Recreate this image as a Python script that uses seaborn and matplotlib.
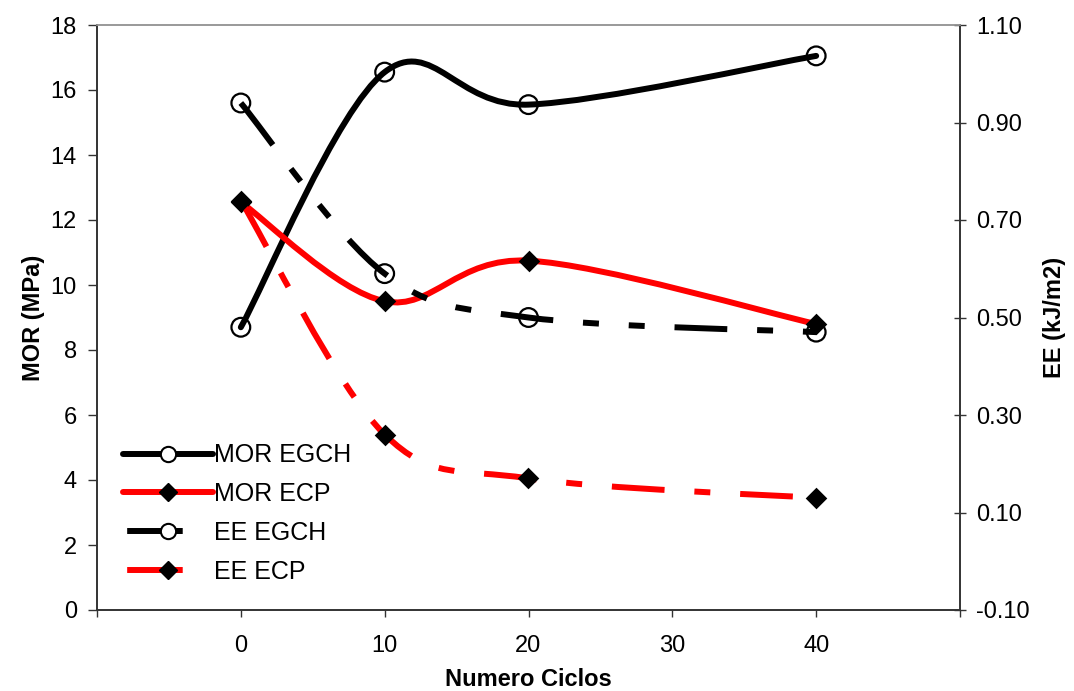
import numpy as np
import seaborn as sns
import matplotlib.pyplot as plt
from matplotlib.path import Path
from matplotlib.patches import PathPatch
from matplotlib.lines import Line2D
from matplotlib.ticker import FormatStrFormatter

ciclos = [0, 10, 20, 40]
mor_egch = [8.7, 16.55, 15.55, 17.05]
mor_ecp = [12.55, 9.5, 10.75, 8.8]
ee_egch = [0.94, 0.59, 0.50, 0.47]
ee_ecp = [0.74, 0.26, 0.17, 0.13]

sns.set_style("white")
plt.rcParams["font.family"] = ["Liberation Sans", "DejaVu Sans"]
plt.rcParams["axes.unicode_minus"] = False
plt.rcParams["lines.scale_dashes"] = False
plt.rcParams["text.color"] = "black"
plt.rcParams["axes.labelcolor"] = "black"


def smooth_path(xs, ys):
    # excel-like smoothed line (catmull-rom as bezier)
    pts = np.column_stack([xs, ys]).astype(float)
    n = len(pts)
    verts = [pts[0]]
    codes = [Path.MOVETO]
    for i in range(n - 1):
        p0 = pts[max(i - 1, 0)]
        p1 = pts[i]
        p2 = pts[i + 1]
        p3 = pts[min(i + 2, n - 1)]
        verts += [p1 + (p2 - p0) / 6, p2 - (p3 - p1) / 6, p2]
        codes += [Path.CURVE4] * 3
    return Path(verts, codes)


lw = 4.3
dash_ecp = (0, (38, 21.5, 11.5, 21.5))
dash_egch = (0, (38, 21.5, 11.5, 21.5, 11.5, 21.5))
fs = 17

fig = plt.figure(figsize=(10.74, 6.91), dpi=100)
ax = fig.add_axes([97 / 1074, 1 - 610 / 691, (960 - 97) / 1074, (610 - 25) / 691])
ax2 = ax.twinx()

ax.add_patch(PathPatch(smooth_path(ciclos, mor_egch), fill=False, color="black",
                       lw=lw, capstyle="round", joinstyle="round", zorder=2))
ax.add_patch(PathPatch(smooth_path(ciclos, mor_ecp), fill=False, color="red",
                       lw=lw, capstyle="round", joinstyle="round", zorder=2))
sns.scatterplot(x=ciclos, y=mor_egch, ax=ax, marker="o", s=13.5 ** 2,
                facecolor="none", edgecolor="black", linewidth=1.6, zorder=3)
sns.scatterplot(x=ciclos, y=mor_ecp, ax=ax, marker="D", s=11 ** 2,
                color="black", edgecolor="black", linewidth=0, zorder=3)

ax2.add_patch(PathPatch(smooth_path(ciclos, ee_egch), fill=False, color="black",
                        lw=lw, linestyle=dash_egch, capstyle="butt", zorder=2))
ax2.add_patch(PathPatch(smooth_path(ciclos, ee_ecp), fill=False, color="red",
                        lw=lw, linestyle=dash_ecp, capstyle="butt", zorder=2))
sns.scatterplot(x=ciclos, y=ee_egch, ax=ax2, marker="o", s=13.5 ** 2,
                facecolor="none", edgecolor="black", linewidth=1.6, zorder=3)
sns.scatterplot(x=ciclos, y=ee_ecp, ax=ax2, marker="D", s=11 ** 2,
                color="black", edgecolor="black", linewidth=0, zorder=3)

ax.set_xlim(-10, 50)
ax.set_ylim(0, 18)
ax2.set_ylim(-0.10, 1.10)
ax.set_xticks(range(-10, 51, 10))
ax.set_xticklabels(["", "0", "10", "20", "30", "40", ""])
ax.set_yticks(range(0, 19, 2))
ax2.set_yticks(np.arange(-0.10, 1.11, 0.20))
ax2.yaxis.set_major_formatter(FormatStrFormatter("%.2f"))

for a in (ax, ax2):
    for s in a.spines.values():
        s.set_color("#333333")
        s.set_linewidth(1.2)
    a.spines["top"].set_color("#999999")
ax.tick_params(axis="y", direction="out", length=6.5, width=1, labelsize=fs,
               colors="#333333", labelcolor="black", pad=8, left=True)
ax.tick_params(axis="x", direction="out", length=5, width=1, labelsize=fs,
               colors="#333333", labelcolor="black", pad=13, bottom=True)
ax2.tick_params(axis="y", direction="inout", length=9, width=1, labelsize=fs,
                colors="#333333", labelcolor="black", pad=7, right=True)

ax.set_xlabel("Numero Ciclos", fontsize=fs, fontweight="bold", labelpad=8)
ax.set_ylabel("MOR (MPa)", fontsize=fs, fontweight="bold", labelpad=4)
ax2.set_ylabel("EE (kJ/m2)", fontsize=fs, fontweight="bold", labelpad=10,
               rotation=90)

handles = [
    Line2D([], [], color="black", lw=lw, solid_capstyle="round", marker="o",
           ms=11, mfc="white", mec="black", mew=1.5),
    Line2D([], [], color="red", lw=lw, solid_capstyle="round", marker="D",
           ms=9, mfc="black", mec="black"),
    Line2D([], [], color="black", lw=lw, linestyle=(-3, (40, 200)),
           dash_capstyle="butt", marker="o", ms=11, mfc="white", mec="black",
           mew=1.5),
    Line2D([], [], color="red", lw=lw, linestyle=(-3, (40, 200)),
           dash_capstyle="butt", marker="D", ms=9, mfc="black", mec="black"),
]
labels = ["MOR EGCH", "MOR ECP", "EE EGCH", "EE ECP"]
ax.legend(handles, labels, loc="upper left", bbox_to_anchor=(0.03, 0.285),
          frameon=False, fontsize=fs + 1, handlelength=3.6, handletextpad=0.05,
          labelspacing=0.59, borderpad=0, borderaxespad=0)

plt.savefig("out.png", dpi=100)
